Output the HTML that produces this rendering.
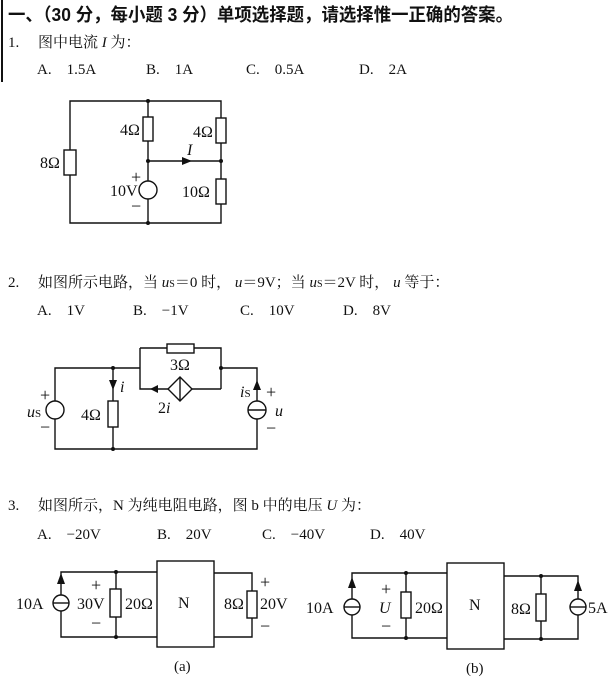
<!DOCTYPE html>
<html><head><meta charset="utf-8"><style>
html,body{margin:0;padding:0;background:#fff}
svg{display:block}
text{font-family:"Liberation Serif","Noto Serif CJK SC",serif;fill:#111}
.h{font-family:"Liberation Sans","Noto Sans CJK SC",sans-serif;font-size:18px;font-weight:bold}
.t{font-size:15px}
.l{font-size:16px}
.s{font-size:18px}
.w{stroke:#111;stroke-width:1.4;fill:none}
.r{stroke:#111;stroke-width:1.4;fill:#fff}
</style></head><body>
<svg width="616" height="691" viewBox="0 0 616 691" xmlns="http://www.w3.org/2000/svg">
<line x1="2" y1="0" x2="2" y2="82" stroke="#111" stroke-width="2"/>
<text x="8" y="21" class="h" textLength="505" lengthAdjust="spacingAndGlyphs">一、（30 分，每小题 3 分）单项选择题，请选择惟一正确的答案。</text>
<text x="8" y="47" class="t">1.　 图中电流 <tspan font-style="italic">I</tspan> 为：</text>
<text x="37" y="74" class="t">A.　1.5A</text><text x="146" y="74" class="t">B.　1A</text><text x="246" y="74" class="t">C.　0.5A</text><text x="359" y="74" class="t">D.　2A</text>

<!-- circuit 1 -->
<path class="w" d="M70 101H221V223H70Z M148 101V223 M148 161H221"/>
<rect class="r" x="64" y="150" width="12" height="25"/>
<rect class="r" x="143" y="117" width="10" height="24"/>
<rect class="r" x="216" y="118" width="10" height="25"/>
<rect class="r" x="216" y="179" width="10" height="25"/>
<circle class="r" cx="148" cy="190" r="9"/>
<circle cx="148" cy="101" r="2" fill="#111"/><circle cx="148" cy="161" r="2" fill="#111"/><circle cx="221" cy="161" r="2" fill="#111"/><circle cx="148" cy="223" r="2" fill="#111"/>
<path d="M182 157L192 161L182 165Z" fill="#111"/>
<text x="40" y="168" class="l">8Ω</text><text x="120" y="135" class="l">4Ω</text><text x="193" y="137" class="l">4Ω</text>
<text x="187" y="155" class="l" font-style="italic">I</text>
<text x="131" y="183" class="s">+</text><text x="110" y="196" class="l">10V</text><text x="131" y="212" class="s">−</text>
<text x="182" y="197" class="l">10Ω</text>

<text x="8" y="287" class="t">2.　 如图所示电路，当 <tspan font-style="italic">u</tspan><tspan font-size="10">S</tspan>＝0 时， <tspan font-style="italic">u</tspan>＝9V；当 <tspan font-style="italic">u</tspan><tspan font-size="10">S</tspan>＝2V 时， <tspan font-style="italic">u</tspan> 等于：</text>
<text x="37" y="315" class="t">A.　1V</text><text x="133" y="315" class="t">B.　−1V</text><text x="240" y="315" class="t">C.　10V</text><text x="343" y="315" class="t">D.　8V</text>

<!-- circuit 2 -->
<path class="w" d="M140 368H55V449H257V368H221 M113 368V449 M140 348H221V389 M140 348V389H221"/>
<rect class="r" x="167" y="344" width="27" height="9"/>
<path class="r" d="M180 377L192 389L180 401L168 389Z"/>
<line x1="180" y1="377" x2="180" y2="401" stroke="#111" stroke-width="1.4"/>
<path d="M158 385L150 389L158 393Z" fill="#111"/>
<rect class="r" x="108" y="401" width="10" height="26"/>
<path d="M109 380L117 380L113 390Z" fill="#111"/>
<circle class="r" cx="55" cy="410" r="9"/>
<circle class="r" cx="257" cy="410" r="9"/>
<line x1="248" y1="410" x2="266" y2="410" stroke="#111" stroke-width="1.4"/>
<path d="M253 390L261 390L257 380Z" fill="#111"/>
<circle cx="113" cy="368" r="2" fill="#111"/><circle cx="221" cy="368" r="2" fill="#111"/><circle cx="113" cy="449" r="2" fill="#111"/>
<text x="40" y="401" class="s">+</text><text x="27" y="417" class="l" font-style="italic">u<tspan font-size="11" font-style="normal">S</tspan></text><text x="40" y="433" class="s">−</text>
<text x="120" y="392" class="l" font-style="italic">i</text>
<text x="81" y="420" class="l">4Ω</text><text x="170" y="370" class="l">3Ω</text>
<text x="158" y="413" class="l">2<tspan font-style="italic">i</tspan></text>
<text x="240" y="397" class="l" font-style="italic">i<tspan font-size="11" font-style="normal">S</tspan></text>
<text x="266" y="398" class="s">+</text><text x="275" y="416" class="l" font-style="italic">u</text><text x="266" y="434" class="s">−</text>

<text x="8" y="510" class="t">3.　 如图所示，N 为纯电阻电路，图 b 中的电压 <tspan font-style="italic">U</tspan> 为：</text>
<text x="37" y="539" class="t">A.　−20V</text><text x="157" y="539" class="t">B.　20V</text><text x="262" y="539" class="t">C.　−40V</text><text x="370" y="539" class="t">D.　40V</text>

<!-- circuit 3a -->
<path class="w" d="M157 572H61V637H157 M116 572V637 M214 573H252V637H214"/>
<rect class="r" x="157" y="561" width="57" height="86"/>
<rect class="r" x="110" y="589" width="11" height="28"/>
<rect class="r" x="247" y="591" width="10" height="27"/>
<circle class="r" cx="61" cy="603" r="8"/><line x1="53" y1="603" x2="69" y2="603" stroke="#111" stroke-width="1.4"/>
<path d="M57 584L65 584L61 573Z" fill="#111"/>
<circle cx="116" cy="572" r="2" fill="#111"/><circle cx="116" cy="637" r="2" fill="#111"/>
<text x="16" y="609" class="l">10A</text><text x="91" y="591" class="s">+</text><text x="77" y="609" class="l">30V</text><text x="91" y="629" class="s">−</text>
<text x="125" y="609" class="l">20Ω</text><text x="178" y="608" class="l">N</text>
<text x="224" y="609" class="l">8Ω</text><text x="260" y="588" class="s">+</text><text x="260" y="609" class="l">20V</text><text x="260" y="632" class="s">−</text>
<text x="174" y="671" class="t">(a)</text>

<!-- circuit 3b -->
<path class="w" d="M447 573H352V638H447 M406 573V638 M504 576H578V639H504 M541 576V639"/>
<rect class="r" x="447" y="563" width="57" height="86"/>
<rect class="r" x="401" y="592" width="10" height="26"/>
<rect class="r" x="536" y="594" width="10" height="27"/>
<circle class="r" cx="352" cy="607" r="8"/><line x1="344" y1="607" x2="360" y2="607" stroke="#111" stroke-width="1.4"/>
<path d="M348 588L356 588L352 577Z" fill="#111"/>
<circle class="r" cx="578" cy="607" r="8"/><line x1="570" y1="607" x2="586" y2="607" stroke="#111" stroke-width="1.4"/>
<path d="M574 591L582 591L578 580Z" fill="#111"/>
<circle cx="406" cy="573" r="2" fill="#111"/><circle cx="406" cy="638" r="2" fill="#111"/><circle cx="541" cy="576" r="2" fill="#111"/><circle cx="541" cy="639" r="2" fill="#111"/>
<text x="306" y="613" class="l">10A</text><text x="381" y="595" class="s">+</text><text x="379" y="613" class="l" font-style="italic">U</text><text x="381" y="632" class="s">−</text>
<text x="415" y="613" class="l">20Ω</text><text x="469" y="610" class="l">N</text>
<text x="511" y="614" class="l">8Ω</text><text x="588" y="613" class="l">5A</text>
<text x="466" y="673" class="t">(b)</text>
</svg>
</body></html>
